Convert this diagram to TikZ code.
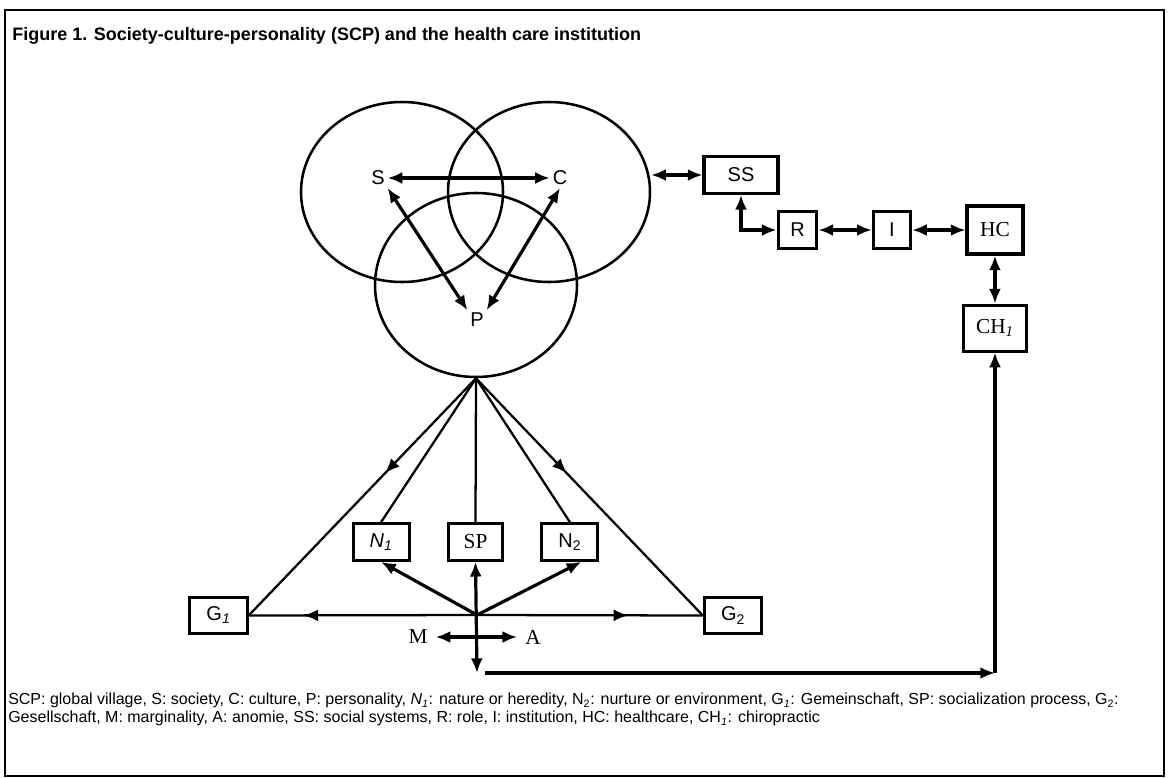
\documentclass[tikz,border=0pt]{standalone}
\usepackage{fontspec}
\setmainfont{Liberation Sans}
\newfontfamily\tmsfont{Liberation Serif}
\usetikzlibrary{arrows.meta,shapes.geometric,positioning,decorations.markings}

\begin{document}
\begin{tikzpicture}[x=0.75pt, y=-0.75pt, node distance=40pt,
  ring/.style={ellipse, draw, line width=1.9pt, minimum width=151.5pt, minimum height=135pt},
  lbl/.style={font=\fontsize{15}{18}\selectfont, inner sep=2pt},
  box/.style={rectangle, draw, line width=2.3pt, inner sep=0pt, minimum height=27.5pt, font=\fontsize{15}{18}\selectfont},
  serifbox/.style={font=\tmsfont\fontsize{16}{18}\selectfont},
  thinline/.style={line width=1.7pt},
  sgl/.style={line width=2.4pt, -{Latex[length=11pt,width=9pt]}},
  dbl/.style={line width=2.4pt, {Latex[length=11pt,width=9pt]}-{Latex[length=11pt,width=9pt]}},
  midtip/.style={postaction={decorate}, decoration={markings,
    mark=at position #1 with {\arrow{Latex[length=11pt,width=9pt]}}}}]
\useasboundingbox (0,0) rectangle (1168,778);
\draw[line width=2.2pt] (5,10) rectangle (1164,776);
\node[anchor=west, inner sep=0pt, font=\bfseries\fontsize{13.5}{16}\selectfont] (title) at (12,36)
  {Figure 1. Society-culture-personality (SCP) and the health care institution};

% S, C, P circles
\node[ring] (sc) at (402,192) {};
\node[ring] (cc) at (549,192) {};
\node[ring, minimum height=138pt] (pc) at (476,285) {};
\node[lbl] (s) at (378,178) {S};
\node[lbl] (c) at (560,178) {C};
\node[lbl] (p) at (477,320) {P};
\draw[dbl] (s) -- (c);
\draw[dbl] (s.south east) -- (p.north west);
\draw[dbl] (c.south) -- (p.north east);

% social systems to chiropractic
\node[box, minimum width=55.5pt] (ss) at (741,175) {SS};
\node[box, minimum width=29pt] (r) at (797.5,230) {R};
\node[box, minimum width=28pt, right=of r] (i) {I};
\node[box, serifbox, minimum width=42pt, minimum height=36pt, right=of i] (hc) {HC};
\node[box, serifbox, minimum width=47pt, minimum height=34.5pt, below=36pt of hc] (ch) {CH\textsubscript{\itshape 1}};
\draw[dbl] (ss.west -| cc.east) -- (ss.west);
\draw[dbl] (ss.south) |- (r.west);
\draw[dbl] (r) -- (i);
\draw[dbl] (i) -- (hc);
\draw[dbl] (hc) -- (ch);

% lower triangle
\coordinate (hub) at (477,615);
\coordinate (lo) at (477,673);
\node[box, serifbox, minimum width=41pt] (sp) at (475.5,542) {SP};
\node[box, minimum width=42pt, left=27pt of sp] (n1) {\itshape N\textsubscript{1}};
\node[box, minimum width=42pt, right=27pt of sp] (n2) {N\textsubscript{2}};
\node[box, minimum width=43pt] (g1) at (218.5,615.5) {G\textsubscript{\itshape 1}};
\node[box, minimum width=43pt] (g2) at (733,615.5) {G\textsubscript{2}};
\draw[thinline] (pc.south) -- (n1.north);
\draw[thinline] (pc.south) -- (sp.north);
\draw[thinline] (pc.south) -- (n2.north);
\draw[thinline, midtip=0.4] (pc.south) -- (g1.east);
\draw[thinline, midtip=0.4] (pc.south) -- (g2.west);
\draw[thinline, midtip=0.76] (hub) -- (g1.east);
\draw[thinline, midtip=0.67] (hub) -- (g2.west);
\draw[sgl] (hub) -- (n1.south);
\draw[sgl] (hub) -- (n2.-60);
\draw[dbl] (sp.south) -- (lo);
\node[lbl, serifbox] (m) at (418,637) {M};
\node[lbl, serifbox] (a) at (533,637) {A};
\draw[dbl, shorten <=4pt, shorten >=4pt] (m) -- (a);
\coordinate (turn) at (ch.south |- lo);
\draw[sgl, line width=3pt] ([xshift=6pt]lo) -- (turn);
\draw[sgl, line width=3pt] (turn) -- (ch.south);

% key
\node[anchor=north west, align=left, inner sep=0pt, font=\fontsize{12}{13.5}\selectfont] (key) at (8,693)
  {SCP: global village, S: society, C: culture, P: personality, \textit{N}\textsubscript{\itshape 1}: nature or heredity, N\textsubscript{2}: nurture or environment, G\textsubscript{\itshape 1}: Gemeinschaft, SP: socialization process, G\textsubscript{2}:\\
   Gesellschaft, M: marginality, A: anomie, SS: social systems, R: role, I: institution, HC: healthcare, CH\textsubscript{\itshape 1}: chiropractic};
\end{tikzpicture}
\end{document}
